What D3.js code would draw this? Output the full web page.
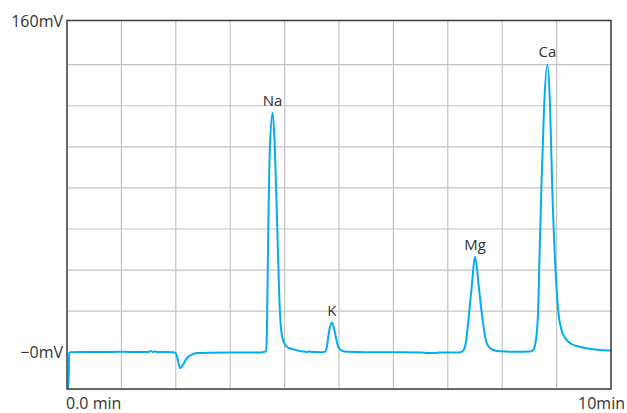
<!DOCTYPE html>
<html>
<head>
<meta charset="utf-8">
<script src="https://cdn.jsdelivr.net/npm/d3@7/dist/d3.min.js"></script>
<style>
  html, body { margin: 0; padding: 0; background: #fff; }
  svg { display: block; }
  text { font-family: "Open Sans", "Noto Sans", sans-serif; fill: #333; }
</style>
</head>
<body>
<svg id="chart" width="627" height="413"></svg>
<script>
// ---- data (time in minutes, signal in mV) ----
const timeMin = [
  0.00, 0.025, 0.04, 0.06, 0.3, 0.6, 1.0, 1.3, 1.5, 1.54, 1.58, 1.62, 1.66, 1.8,
  1.95, 2.0, 2.04, 2.08, 2.13, 2.2, 2.3, 2.4, 2.6, 3.0, 3.5,
  3.6, 3.655, 3.67, 3.68, 3.70, 3.73, 3.78, 3.82, 3.866, 3.915, 3.96, 4.04, 4.15, 4.3, 4.42, 4.46, 4.5, 4.6,
  4.7, 4.75, 4.78, 4.80, 4.84, 4.87, 4.90, 4.945, 4.99, 5.05, 5.15, 5.5, 6.0, 6.5, 6.65, 6.75, 6.86, 7.0,
  7.2, 7.26, 7.30, 7.33, 7.395, 7.44, 7.50, 7.57, 7.62, 7.715, 7.80, 7.90, 8.1, 8.3,
  8.5, 8.56, 8.60, 8.63, 8.66, 8.68, 8.72, 8.77, 8.83, 8.88, 8.92, 8.98, 9.03, 9.09, 9.16, 9.25, 9.4, 9.55, 9.75, 10.0
];
const signalMv = [
  -17.9, -17.9, -0.3, 0.0, 0.1, 0.1, 0.2, 0.1, 0.1, 0.6, 0.1, 0.5, 0.1, 0.1,
  0.0, -0.5, -4.0, -7.8, -6.2, -3.0, -1.0, -0.4, -0.2, -0.1, -0.1,
  0.0, 0.5, 5.0, 19.0, 59.5, 100.0, 116.6, 100.0, 59.5, 19.0, 7.0, 2.7, 1.5, 0.5, 0.1, 0.5, 0.1, 0.1,
  0.0, 0.5, 3.0, 7.0, 13.0, 14.4, 12.5, 7.0, 2.5, 0.8, 0.2, 0.0, 0.0, -0.1, -0.4, -0.4, -0.1, -0.1,
  -0.1, 0.3, 1.5, 4.4, 20.0, 32.0, 46.5, 32.0, 20.0, 4.4, 1.5, 0.6, 0.3, 0.2,
  0.3, 0.8, 3.0, 8.0, 20.0, 40.0, 80.0, 119.5, 140.1, 119.5, 80.0, 40.0, 20.0, 10.8, 6.8, 4.4, 2.8, 1.9, 1.2, 0.8
];
const peakNames = ["Na", "K", "Mg", "Ca"];
const peakTimes = [3.78, 4.87, 7.50, 8.83];
const peakValues = [116.6, 14.4, 46.5, 140.1];
const xGridTicks = [1, 2, 3, 4, 5, 6, 7, 8, 9];
const yGridTicks = [20, 40, 60, 80, 100, 120, 140];
const yAxisLabels = [{ v: 160, t: "160mV" }, { v: 0, t: "\u22120mV" }];
const xAxisLabels = [{ v: 0, t: "0.0 min", anchor: "start" }, { v: 10, t: "10min", anchor: "end" }];

// ---- layout ----
const mLeft = 67, mRight = 611, mTop = 20.5, mBottom = 389;
const svg = d3.select("#chart");
const x = d3.scaleLinear().domain([0, 10]).range([mLeft, mRight]);
const y = d3.scaleLinear().domain([-17.9, 161.5]).range([mBottom, mTop]);

// grid
svg.append("g").selectAll("line").data(xGridTicks).join("line")
  .attr("x1", d => x(d)).attr("x2", d => x(d))
  .attr("y1", mTop).attr("y2", mBottom)
  .attr("stroke", "#c4c4c4").attr("stroke-width", 1.2);
svg.append("g").selectAll("line").data(yGridTicks).join("line")
  .attr("y1", d => y(d)).attr("y2", d => y(d))
  .attr("x1", mLeft).attr("x2", mRight)
  .attr("stroke", "#c4c4c4").attr("stroke-width", 1.2);

// curve
const pts = timeMin.map((t, i) => [t, signalMv[i]]);
svg.append("defs").append("clipPath").attr("id", "clip")
  .append("rect").attr("x", mLeft).attr("y", mTop).attr("width", mRight - mLeft).attr("height", mBottom - mTop);
svg.append("path")
  .datum(pts)
  .attr("clip-path", "url(#clip)")
  .attr("fill", "none")
  .attr("stroke", "#00aeef")
  .attr("stroke-width", 2)
  .attr("stroke-linejoin", "round")
  .attr("d", d3.line().x(d => x(d[0])).y(d => y(d[1])).curve(d3.curveMonotoneX));

// frame
svg.append("rect")
  .attr("x", mLeft).attr("y", mTop).attr("width", mRight - mLeft).attr("height", mBottom - mTop)
  .attr("fill", "none").attr("stroke", "#3a3a3a").attr("stroke-width", 1.5);

// axis labels
svg.append("g").selectAll("text").data(yAxisLabels).join("text")
  .attr("x", 63)
  .attr("y", d => d.v === 160 ? 27 : y(d.v) + 6)
  .attr("text-anchor", "end")
  .attr("font-size", 16)
  .text(d => d.t);
svg.append("g").selectAll("text").data(xAxisLabels).join("text")
  .attr("x", d => d.anchor === "start" ? x(d.v) - 1 : x(d.v) + 14)
  .attr("y", 409)
  .attr("text-anchor", d => d.anchor)
  .attr("font-size", 16)
  .text(d => d.t);

// peak labels
svg.append("g").selectAll("text").data(peakNames).join("text")
  .attr("x", (d, i) => x(peakTimes[i]))
  .attr("y", (d, i) => y(peakValues[i]) - 7)
  .attr("text-anchor", "middle")
  .attr("font-size", 15)
  .text(d => d);
</script>
</body>
</html>
